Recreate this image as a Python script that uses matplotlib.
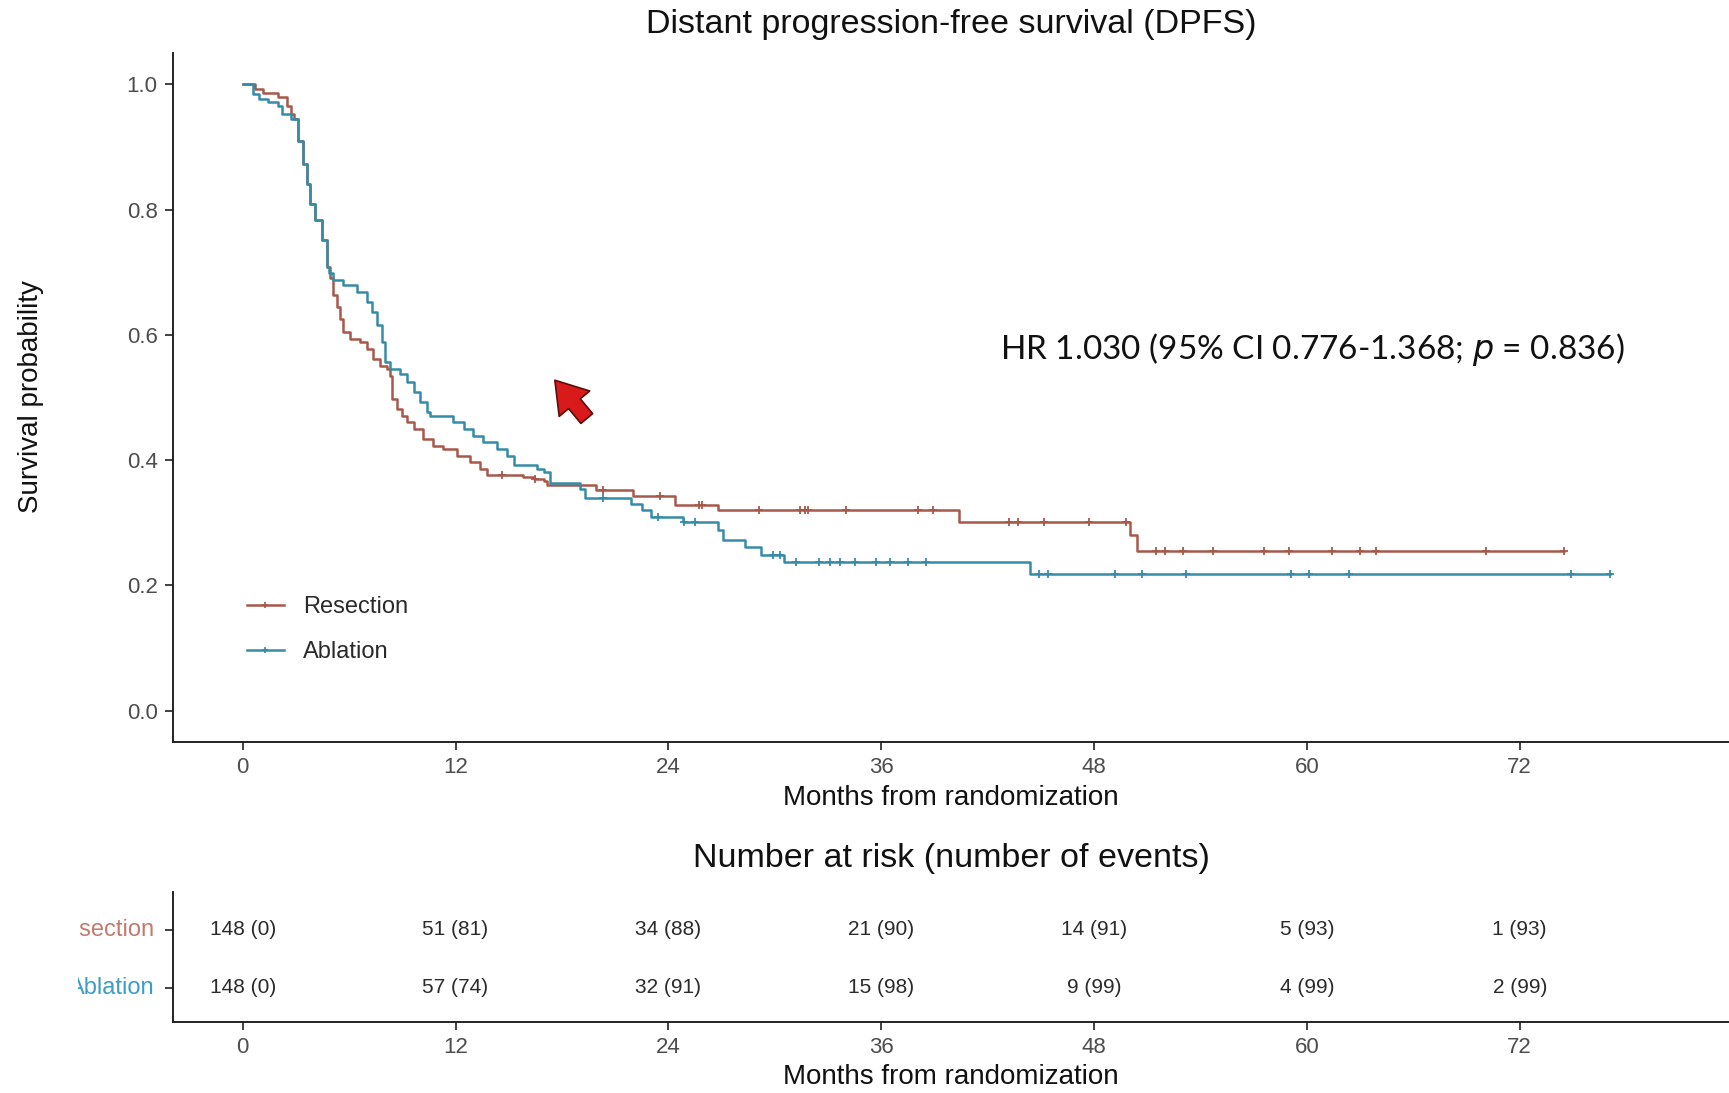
import numpy as np
import matplotlib
matplotlib.use("Agg")
import matplotlib.pyplot as plt
from matplotlib.lines import Line2D
from matplotlib.transforms import Bbox, TransformedBbox

plt.rcParams['font.family'] = ['Liberation Sans', 'DejaVu Sans']

# Kaplan-Meier step points (months, survival) read per arm
res_t = [0, 0.7, 1.17, 2.0, 2.5, 2.75, 2.9, 3.14, 3.42, 3.61, 3.8, 4.08, 4.46, 4.74,
         4.9, 5.11, 5.3, 5.49, 5.68, 6.06, 6.62, 7.0, 7.37, 7.75, 8.13, 8.31, 8.41,
         8.69, 9.0, 9.25, 9.63, 10.19, 10.75, 11.32, 12.07, 12.82, 13.39, 13.77,
         15.83, 16.4, 16.96, 17.15, 19.9, 22.0, 24.4, 26.8, 40.4, 50.05, 50.4, 74.5]
res_s = [1.0, 0.993, 0.986, 0.979, 0.966, 0.953, 0.945, 0.910, 0.873, 0.841, 0.809,
         0.783, 0.751, 0.708, 0.690, 0.663, 0.645, 0.626, 0.604, 0.594, 0.588, 0.578,
         0.562, 0.551, 0.546, 0.535, 0.498, 0.482, 0.470, 0.461, 0.450, 0.434, 0.423,
         0.418, 0.407, 0.397, 0.386, 0.376, 0.373, 0.370, 0.367, 0.360, 0.352, 0.343,
         0.329, 0.321, 0.302, 0.280, 0.255, 0.255]

abl_t = [0, 0.6, 0.9, 1.45, 2.0, 2.2, 2.7, 3.14, 3.42, 3.61, 3.8, 4.08, 4.46, 4.74,
         4.84, 5.11, 5.68, 6.43, 7.0, 7.28, 7.56, 7.84, 8.03, 8.31, 8.88, 9.25, 9.63,
         10.0, 10.38, 10.57, 11.88, 12.45, 13.0, 13.57, 14.33, 14.9, 15.27, 16.6,
         16.96, 17.33, 19.0, 19.3, 21.9, 22.5, 23.0, 24.8, 26.8, 27.1, 28.3, 29.2,
         30.5, 44.4, 77.1]
abl_s = [1.0, 0.985, 0.977, 0.972, 0.966, 0.953, 0.945, 0.910, 0.873, 0.841, 0.809,
         0.783, 0.751, 0.708, 0.698, 0.687, 0.679, 0.668, 0.652, 0.636, 0.615, 0.588,
         0.557, 0.546, 0.538, 0.525, 0.509, 0.493, 0.477, 0.471, 0.461, 0.450, 0.439,
         0.429, 0.418, 0.407, 0.392, 0.386, 0.381, 0.363, 0.354, 0.340, 0.330, 0.320,
         0.309, 0.301, 0.288, 0.272, 0.262, 0.249, 0.238, 0.219, 0.219]

# censoring times (months)
res_cens = [14.6, 16.5, 20.3, 23.5, 25.7, 25.9, 29.1, 31.4, 31.7, 31.9, 34.0, 38.1,
            38.9, 43.2, 43.7, 45.2, 47.7, 49.8, 51.5, 52.0, 53.0, 54.7, 57.6, 59.0,
            61.4, 63.0, 63.9, 70.1, 74.5]
abl_cens = [20.3, 23.4, 24.9, 25.5, 29.9, 30.3, 31.2, 32.5, 33.1, 33.7, 34.5, 35.7,
            36.5, 37.5, 38.5, 44.9, 45.4, 49.2, 50.7, 53.2, 59.1, 60.1, 62.4, 74.9, 77.1]

# risk table
risk_times = [0, 12, 24, 36, 48, 60, 72]
res_risk = [148, 51, 34, 21, 14, 5, 1]
res_events = [0, 81, 88, 90, 91, 93, 93]
abl_risk = [148, 57, 32, 15, 9, 4, 2]
abl_events = [0, 74, 91, 98, 99, 99, 99]

res_col = '#a8584a'
abl_col = '#358ca8'
res_txt = '#c27a6e'
abl_txt = '#3d9cc8'
tick_col = '#4d4d4d'

W, H = 1729, 1093
fig = plt.figure(figsize=(W / 100, H / 100), dpi=100)
fig.patch.set_facecolor('white')

left = 173 / W
ax = fig.add_axes([left, (H - 742) / H, 1 - left, (742 - 53) / H])
axr = fig.add_axes([left, (H - 1021.7) / H, 1 - left, (1021.7 - 891.7) / H])

xlim = (-3.93, 83.8)


def step_value(times, surv, t):
    i = np.searchsorted(times, t, side='right') - 1
    return np.asarray(surv)[i]


handles = []
for t, s, cens, col, name in [(res_t, res_s, res_cens, res_col, 'Resection'),
                              (abl_t, abl_s, abl_cens, abl_col, 'Ablation')]:
    ax.step(t, s, where='post', color=col, lw=1.8)
    cy = step_value(t, s, cens)
    ax.plot(cens, cy, ls='none', marker='+', ms=6, mew=1.3, color=col)
    handles.append(Line2D([], [], color=col, lw=1.8, marker='+', ms=5, mew=1.2,
                          label=name))

ax.set_xlim(*xlim)
ax.set_ylim(-0.05, 1.05)
ax.set_xticks(risk_times)
ax.set_yticks([0, 0.2, 0.4, 0.6, 0.8, 1.0])
ax.set_yticklabels(['0.0', '0.2', '0.4', '0.6', '0.8', '1.0'])

for a in (ax, axr):
    for sp in ('top', 'right'):
        a.spines[sp].set_visible(False)
    for sp in ('left', 'bottom'):
        a.spines[sp].set_linewidth(1.4)
        a.spines[sp].set_color('#222222')
    a.tick_params(length=6, width=1.3, color='#333333', labelcolor=tick_col,
                  labelsize=16, pad=5)

ax.legend(handles=handles, loc='center left', bbox_to_anchor=(0.034, 0.163),
          frameon=False, fontsize=17, numpoints=1, handlelength=1.55,
          handletextpad=0.8, labelspacing=0.95, labelcolor='#2a2a2a')

ax.text(60.3, 0.576, 'HR 1.030 (95% CI 0.776-1.368; $p$ = 0.836)', ha='center',
        va='center', fontsize=24, family=['Lato', 'DejaVu Sans'], color='#111111')

# pointer arrow
ax.annotate('', xy=(17.5, 0.531), xytext=(19.5, 0.463),
            arrowprops=dict(arrowstyle='simple,head_length=1.0,head_width=1.3,tail_width=0.5',
                            fc='#d91a1a', ec='#5e0b0b', lw=1.2, mutation_scale=22))

cx = (left + 1) / 2
fig.text(cx, 1 - 24 / H, 'Distant progression-free survival (DPFS)', ha='center',
         va='center', fontsize=24.5, color='#111111')
fig.text(cx, 1 - 798 / H, 'Months from randomization', ha='center', va='center',
         fontsize=20, color='#111111')
fig.text(31 / W, 1 - 397 / H, 'Survival probability', ha='center', va='center',
         rotation=90, fontsize=20, color='#111111')

# risk table
axr.set_xlim(*xlim)
axr.set_ylim(0.42, 2.65)
axr.set_xticks(risk_times)
axr.set_yticks([1, 2])
axr.set_yticklabels([])
for i, t in enumerate(risk_times):
    axr.text(t, 2, f'{res_risk[i]} ({res_events[i]})', ha='center', va='center',
             fontsize=15, color='#2a2a2a')
    axr.text(t, 1, f'{abl_risk[i]} ({abl_events[i]})', ha='center', va='center',
             fontsize=15, color='#2a2a2a')

clip = TransformedBbox(Bbox([[78 / W, 0], [1, 1]]), fig.transFigure)
for y, name, col in [(2, 'Resection', res_txt), (1, 'Ablation', abl_txt)]:
    lab = axr.text(-0.012, y, name, transform=axr.get_yaxis_transform(),
                   ha='right', va='center', fontsize=17, color=col)
    lab.set_clip_box(clip)
    lab.set_clip_on(True)

fig.text(cx, 1 - 859 / H, 'Number at risk (number of events)', ha='center',
         va='center', fontsize=24.5, color='#111111')
fig.text(cx, 1 - 1077 / H, 'Months from randomization', ha='center', va='center',
         fontsize=20, color='#111111')

fig.savefig('out.png', dpi=100, facecolor='white')
